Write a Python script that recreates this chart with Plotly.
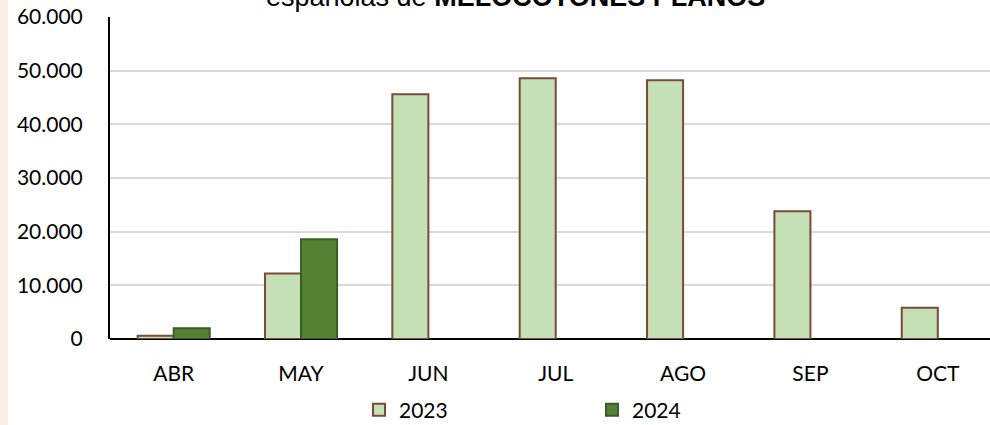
import plotly.graph_objects as go

months = ["ABR", "MAY", "JUN", "JUL", "AGO", "SEP", "OCT"]
values_2023 = [600, 12200, 45600, 48600, 48200, 23800, 5800]
values_2024 = [2000, 18600, None, None, None, None, None]

title_text = "españolas de <b>MELOCOTONES PLANOS</b>"

fig = go.Figure()
fig.add_trace(go.Bar(
    x=months, y=values_2023, name="2023",
    marker=dict(color="#C5E0B4", line=dict(color="#7B4A3A", width=2)),
))
fig.add_trace(go.Bar(
    x=months, y=values_2024, name="2024",
    marker=dict(color="#548235", line=dict(color="#3B5E26", width=2)),
))

fig.update_layout(
    width=990, height=425,
    margin=dict(l=110, r=0, t=17, b=86),
    paper_bgcolor="white", plot_bgcolor="white",
    separators=",.",
    barmode="group", bargap=0.434, bargroupgap=0,
    font=dict(family="Lato, Carlito, sans-serif", size=21, color="#000000"),
    showlegend=True,
    legend=dict(orientation="h", xref="container", yref="container",
                x=359/990, xanchor="left", y=1 - 410/425, yanchor="middle",
                entrywidth=188, entrywidthmode="pixels",
                font=dict(size=21), itemclick=False),
    xaxis=dict(range=[-0.5, 6.41], showgrid=False, showline=False, ticks="",
               ticklabelstandoff=20),
    yaxis=dict(range=[0, 60000], dtick=10000, tickformat=",d",
               showgrid=True, gridcolor="#D9D9D9", gridwidth=2,
               showline=True, linecolor="#000000", linewidth=2,
               zeroline=True, zerolinecolor="#000000", zerolinewidth=2,
               ticks="", ticklabelstandoff=21),
    annotations=[dict(text=title_text, xref="paper", yref="paper", x=0.461, y=1.061,
                      xanchor="center", yanchor="middle", showarrow=False,
                      font=dict(family="Liberation Sans, Arial, sans-serif", size=27, color="#000000"))],
    shapes=[dict(type="rect", xref="paper", yref="paper", x0=-110/880, x1=-102/880,
                 y0=-86/322, y1=1 + 17/322, fillcolor="#FBEFE5", line=dict(width=0), layer="below")],
)

# page without body margin so the figure sits at the window's corner
fig.write_html("out.html", config={"displayModeBar": False},
               post_script="document.body.style.margin='0';")
